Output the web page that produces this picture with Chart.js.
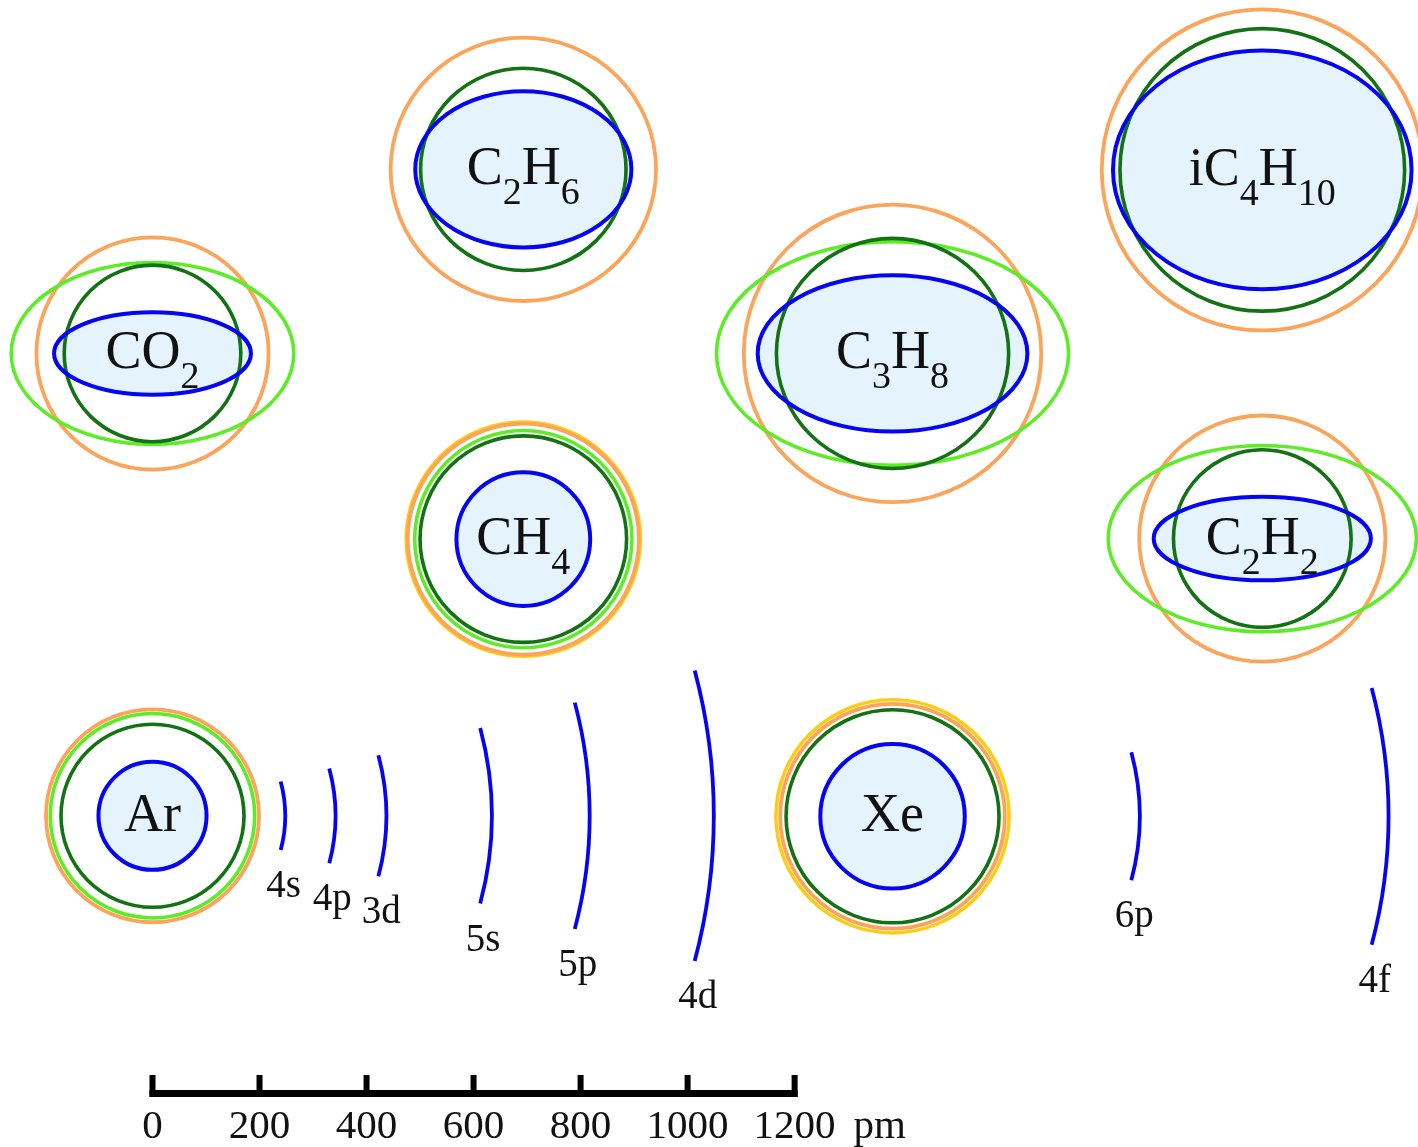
<!DOCTYPE html>
<html>
<head>
<meta charset="utf-8">
<script src="https://cdn.jsdelivr.net/npm/chart.js@4.4.1/dist/chart.umd.min.js"></script>
<style>
  html, body { margin: 0; padding: 0; background: #fff; }
  canvas { display: block; }
</style>
</head>
<body>
<canvas id="sizes" width="1418" height="1147"></canvas>
<script>
// species and where they sit on the sheet (pm)
const molecules = ['CO2', 'C2H6', 'iC4H10', 'C3H8', 'CH4', 'C2H2', 'Ar', 'Xe'];
const centerX = [0, 693, 2074, 1383, 693, 2074, 0, 1383];
const centerY = [1383, 1727, 1726, 1383, 1036, 1037, 519, 518];

// semi-axes [horizontal, vertical] in pm, null = ring not drawn
const blueRing      = [[184, 77], [202, 146], [279, 223], [252, 146], [125, 125], [203, 78], [101, 101], [135, 135]];
const darkGreenRing = [[165, 165], [192, 189], [266, 264], [217, 215], [193, 193], [166, 166], [171, 171], [199, 199]];
const lightGreenRing = [[264, 170], null, null, [329, 209], [203, 203], [288, 174], [191, 191], null];
const orangeRing    = [[217, 217], [248, 246], [300, 300], [278, 278], [216, 216], [230, 230], [199, 199], [210, 210]];
const yellowRing    = [null, null, null, null, [219, 219], null, null, [218, 218]];

// orbital radii drawn as arcs around the atoms (pm)
const orbitals = ['4s', '4p', '3d', '5s', '5p', '4d', '6p', '4f'];
const orbitalAtom = ['Ar', 'Ar', 'Ar', 'Ar', 'Ar', 'Ar', 'Xe', 'Xe'];
const orbitalRadius = [248, 342, 437, 634, 817, 1049, 462, 927];

// scale bar
const scaleTicks = [0, 200, 400, 600, 800, 1000, 1200];
const scaleUnit = 'pm';

const SERIF = '"Liberation Serif", "Times New Roman", serif';
const BLUE = '#0505f2';
const ringStyles = [
  { radii: yellowRing, color: '#ffcc10', width: 3.4 },
  { radii: orangeRing, color: '#fba45a', width: 3.8 },
  { radii: lightGreenRing, color: '#5eec28', width: 3.6 },
  { radii: darkGreenRing, color: '#137213', width: 3.6 },
  { radii: blueRing, color: BLUE, width: 4 }
];

// digits in a formula are set as subscripts
function drawFormula(ctx, text, cx, baseY) {
  const parts = text.match(/\d+|\D+/g);
  const fontOf = p => /\d/.test(p) ? '38px ' + SERIF : '54px ' + SERIF;
  let width = 0;
  parts.forEach(p => { ctx.font = fontOf(p); width += ctx.measureText(p).width; });
  let cur = cx - width / 2;
  ctx.textAlign = 'left';
  ctx.textBaseline = 'alphabetic';
  ctx.fillStyle = '#111';
  parts.forEach(p => {
    ctx.font = fontOf(p);
    ctx.fillText(p, cur, /\d/.test(p) ? baseY + 20 : baseY);
    cur += ctx.measureText(p).width;
  });
}

const sizesPlugin = {
  id: 'sizes',
  afterDatasetsDraw(chart) {
    const ctx = chart.ctx;
    const xs = chart.scales.x, ys = chart.scales.y;
    const pts = chart.getDatasetMeta(0).data;
    ctx.save();

    molecules.forEach((name, i) => {
      const px = pts[i].x, py = pts[i].y;
      const rx = v => xs.getPixelForValue(centerX[i] + v) - px;
      const ry = v => py - ys.getPixelForValue(centerY[i] + v);
      const b = blueRing[i];
      ctx.beginPath();
      ctx.ellipse(px, py, rx(b[0]), ry(b[1]), 0, 0, Math.PI * 2);
      ctx.fillStyle = '#e5f3fc';
      ctx.fill();
      ringStyles.forEach(s => {
        const r = s.radii[i];
        if (!r) return;
        ctx.beginPath();
        ctx.ellipse(px, py, rx(r[0]), ry(r[1]), 0, 0, Math.PI * 2);
        ctx.lineWidth = s.width;
        ctx.strokeStyle = s.color;
        ctx.stroke();
      });
      drawFormula(ctx, name, px, py + 15);
    });

    // orbital arcs, +-15 degrees either side of the horizontal
    const half = 15 * Math.PI / 180;
    orbitals.forEach((label, k) => {
      const i = molecules.indexOf(orbitalAtom[k]);
      const px = pts[i].x, py = pts[i].y;
      const r = xs.getPixelForValue(centerX[i] + orbitalRadius[k]) - px;
      ctx.beginPath();
      ctx.arc(px, py, r, -half, half);
      ctx.lineWidth = 3.8;
      ctx.strokeStyle = BLUE;
      ctx.stroke();
      const ex = px + r * Math.cos(half), ey = py + r * Math.sin(half);
      ctx.font = '39px ' + SERIF;
      ctx.fillStyle = '#111';
      ctx.textAlign = 'center';
      ctx.textBaseline = 'alphabetic';
      ctx.fillText(label, ex + 3, ey + 47);
    });

    // scale bar along y = 0
    const y0 = ys.getPixelForValue(0);
    const first = xs.getPixelForValue(scaleTicks[0]);
    const last = xs.getPixelForValue(scaleTicks[scaleTicks.length - 1]);
    ctx.fillStyle = '#000';
    ctx.fillRect(first - 3, y0 - 3.5, last - first + 6, 7);
    ctx.font = '41px ' + SERIF;
    ctx.textAlign = 'center';
    scaleTicks.forEach(t => {
      const tx = xs.getPixelForValue(t);
      ctx.fillStyle = '#000';
      ctx.fillRect(tx - 3, y0 - 18.5, 6, 22);
      ctx.fillStyle = '#111';
      ctx.fillText(String(t), tx, y0 + 45);
    });
    ctx.textAlign = 'left';
    ctx.fillText(scaleUnit, last + 59, y0 + 45);

    ctx.restore();
  }
};

const ctx = document.getElementById('sizes').getContext('2d');
new Chart(ctx, {
  type: 'scatter',
  data: {
    datasets: [{
      data: molecules.map((m, i) => ({ x: centerX[i], y: centerY[i] })),
      pointRadius: 0,
      pointHoverRadius: 0
    }]
  },
  options: {
    responsive: false,
    animation: false,
    events: [],
    layout: { padding: 0 },
    plugins: {
      legend: { display: false },
      tooltip: { enabled: false }
    },
    scales: {
      x: { type: 'linear', min: -285, max: 2365, display: false },
      y: { type: 'linear', min: -100, max: 2043.5, display: false }
    }
  },
  plugins: [sizesPlugin]
});
</script>
</body>
</html>
